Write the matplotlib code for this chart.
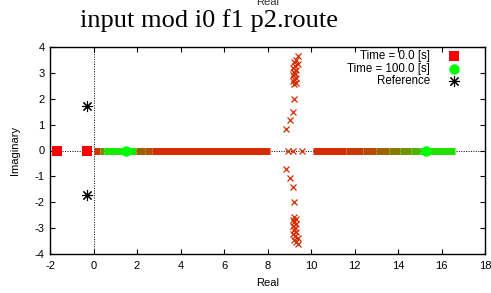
import numpy as np
import matplotlib
matplotlib.use("Agg")
import matplotlib.pyplot as plt
from matplotlib.colors import LinearSegmentedColormap

# Eigenvalue bands on the real axis: start, end (real part) and time [s]
band_start = [0.0, 0.3, 0.5, 1.95, 2.35, 2.7, 10.1, 11.6, 12.4, 13.0, 13.6, 14.1, 14.6, 15.0]
band_end = [0.3, 0.5, 1.95, 2.35, 2.7, 8.1, 11.6, 12.4, 13.0, 13.6, 14.1, 14.6, 15.0, 16.6]
band_time = [22, 55, 92, 38, 32, 17, 17, 22, 30, 38, 48, 58, 70, 88]

# Isolated eigenvalues (early time)
cross_re = [8.95, 9.17, 9.57,
            9.41, 9.33, 9.22, 9.38, 9.25, 9.18, 9.32, 9.20, 9.28, 9.15, 9.30, 9.22, 9.17, 9.30, 9.20,
            9.20, 9.15, 9.02, 8.85,
            8.85, 9.05, 9.17, 9.20,
            9.20, 9.30, 9.17, 9.22, 9.30, 9.15, 9.28, 9.20, 9.32, 9.18, 9.25, 9.38, 9.22, 9.33, 9.41]
cross_im = [0.0, 0.0, 0.0,
            3.65, 3.50, 3.42, 3.35, 3.28, 3.20, 3.12, 3.05, 2.97, 2.90, 2.82, 2.75, 2.68, 2.62, 2.58,
            1.99, 1.50, 1.17, 0.82,
            -0.73, -1.07, -1.42, -1.99,
            -2.57, -2.63, -2.70, -2.78, -2.85, -2.92, -3.00, -3.08, -3.15, -3.22, -3.30, -3.37, -3.44, -3.52, -3.60]
cross_time = 17

# Start / end eigenvalues and reference
start_re = [-1.67, -0.29]
start_im = [0.0, 0.0]
end_re = [1.5, 15.3]
end_im = [0.0, 0.0]
ref_re = [-0.29, -0.29]
ref_im = [1.73, -1.73]

t_max = 100.0
cmap = LinearSegmentedColormap.from_list("rg", ["#ff0000", "#00ff00"])

plt.rcParams['font.family'] = ['Liberation Sans', 'DejaVu Sans']
plt.rcParams['axes.unicode_minus'] = False
fs = 8

fig = plt.figure(figsize=(4.91, 2.93), dpi=100)
ax = fig.add_axes([50 / 491, 39 / 293, 435 / 491, 207 / 293])

ax.axhline(0, color='black', ls=(0, (1, 1.5)), lw=0.7, zorder=1)
ax.axvline(0, color='black', ls=(0, (1, 1.5)), lw=0.7, zorder=1)

for x0, x1, t in zip(band_start, band_end, band_time):
    ax.plot([x0, x1], [0, 0], color=cmap(t / t_max), lw=5, solid_capstyle='butt', zorder=2)

ax.plot(cross_re, cross_im, 'x', color=cmap(cross_time / t_max), ms=4, mew=0.9, zorder=3)

ax.plot(start_re, start_im, 's', color='#ff0000', ms=7.5, mew=0, zorder=4)
ax.plot(end_re, end_im, 'o', color='#00ff00', ms=7.5, mew=0, zorder=4)
ax.plot(ref_re, ref_im, marker=(8, 2, 0), ls='none', color='black', ms=8, mew=0.8, zorder=4)

ax.set_xlim(-2, 18)
ax.set_ylim(-4, 4)
ax.set_xticks(np.arange(-2, 19, 2))
ax.set_yticks(np.arange(-4, 5, 1))
ax.tick_params(direction='in', length=3.5, width=0.8, top=True, right=True, labelsize=fs, colors='black')
ax.tick_params(axis='x', pad=5)
ax.tick_params(axis='y', pad=4)
for s in ax.spines.values():
    s.set_linewidth(1.0)

ax.set_xlabel("Real", fontsize=fs)
ax.xaxis.set_label_coords(0.501, -0.115)
ax.set_ylabel("Imaginary", fontsize=fs)
ax.yaxis.set_label_coords(-0.069, 0.502)

# legend drawn in gnuplot style (text right aligned, marker on the right)
leg_labels = ["Time = 0.0 [s]", "Time = 100.0 [s]", "Reference"]
leg_y = [0.957, 0.894, 0.836]
ax.text(0.874, leg_y[0], leg_labels[0], transform=ax.transAxes, ha='right', va='center', fontsize=8.3)
ax.text(0.874, leg_y[1], leg_labels[1], transform=ax.transAxes, ha='right', va='center', fontsize=8.3)
ax.text(0.874, leg_y[2], leg_labels[2], transform=ax.transAxes, ha='right', va='center', fontsize=8.3)
ax.plot([0.929], [leg_y[0]], 's', color='#ff0000', ms=7.5, mew=0, transform=ax.transAxes, clip_on=False)
ax.plot([0.929], [leg_y[1]], 'o', color='#00ff00', ms=7.5, mew=0, transform=ax.transAxes, clip_on=False)
ax.plot([0.929], [leg_y[2]], marker=(8, 2, 0), color='black', ms=8, mew=0.8, transform=ax.transAxes, clip_on=False)

fig.text(209 / 491, 1 - 27 / 293, "input mod i0 f1 p2.route", ha='center', va='baseline',
         fontsize=19, family=['Liberation Serif', 'DejaVu Serif'])
fig.text(268 / 491, 1 - 5 / 293, "Real", ha='center', va='baseline', fontsize=fs, color='#333333')

fig.savefig("out.png", dpi=100)
